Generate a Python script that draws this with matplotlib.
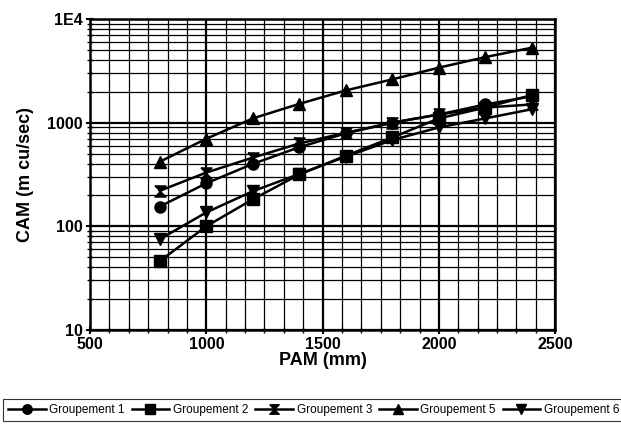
import matplotlib
matplotlib.use('Agg')
import matplotlib.pyplot as plt
from matplotlib.ticker import MultipleLocator, FixedLocator, FixedFormatter, LogLocator, NullFormatter
import numpy as np

plt.rcParams['font.family'] = ['Liberation Sans', 'DejaVu Sans']

pam = [800, 1000, 1200, 1400, 1600, 1800, 2000, 2200, 2400]
grp1 = [155, 260, 400, 580, 790, 1000, 1200, 1500, 1800]
grp2 = [46, 100, 182, 316, 480, 720, 1100, 1400, 1850]
grp3 = [220, 330, 460, 630, 800, 1000, 1200, 1400, 1500]
grp5 = [420, 700, 1100, 1520, 2050, 2620, 3400, 4300, 5300]
grp6 = [75, 136, 218, 320, 470, 680, 900, 1100, 1350]
labels = ['Groupement 1', 'Groupement 2', 'Groupement 3', 'Groupement 5', 'Groupement 6']
yticks = [10, 100, 1000, 10000]
ytick_labels = ['10', '100', '1000', '1E4']

hourglass = [(-1, 1), (1, 1), (-1, -1), (1, -1), (-1, 1)]
markers = ['o', 's', hourglass, '^', 'v']

fig = plt.figure(figsize=(6.21, 4.25), dpi=100)
ax = fig.add_axes([0.145, 0.224, 0.749, 0.731])

for ys, m, lab in zip([grp1, grp2, grp3, grp5, grp6], markers, labels):
    ax.plot(pam, ys, color='black', lw=1.8, marker=m, ms=8, mfc='black', mec='black', label=lab)

ax.set_yscale('log')
ax.set_xlim(500, 2500)
ax.set_ylim(10, 10000)
ax.xaxis.set_major_locator(MultipleLocator(500))
ax.xaxis.set_minor_locator(MultipleLocator(500 / 6))
ax.yaxis.set_major_locator(FixedLocator(yticks))
ax.yaxis.set_major_formatter(FixedFormatter(ytick_labels))
ax.yaxis.set_minor_locator(LogLocator(base=10, subs=np.arange(2, 10)))
ax.yaxis.set_minor_formatter(NullFormatter())

ax.grid(True, which='major', color='black', lw=1.6)
ax.grid(True, which='minor', color='black', lw=0.9)
for s in ax.spines.values():
    s.set_linewidth(1.8)
ax.tick_params(which='major', length=6, width=1.5, labelsize=11.5, direction='inout', pad=2)
ax.tick_params(which='minor', length=4, width=1, direction='inout')
for t in ax.get_xticklabels() + ax.get_yticklabels():
    t.set_fontweight('bold')

ax.set_xlabel('PAM (mm)', fontsize=13, fontweight='bold', labelpad=0)
ax.set_ylabel('CAM (m cu/sec)', fontsize=13, fontweight='bold', labelpad=10)

leg = fig.legend(loc='lower left', bbox_to_anchor=(0.005, 0.01, 1.0, 0.06), mode='expand',
                 ncol=5, fontsize=8.5, frameon=True, fancybox=False, edgecolor='black',
                 handlelength=3.2, handletextpad=0.3, borderpad=0.4, borderaxespad=0,
                 columnspacing=0.2, markerscale=0.85)
leg.get_frame().set_linewidth(0.8)

fig.savefig('out.png', dpi=100)
